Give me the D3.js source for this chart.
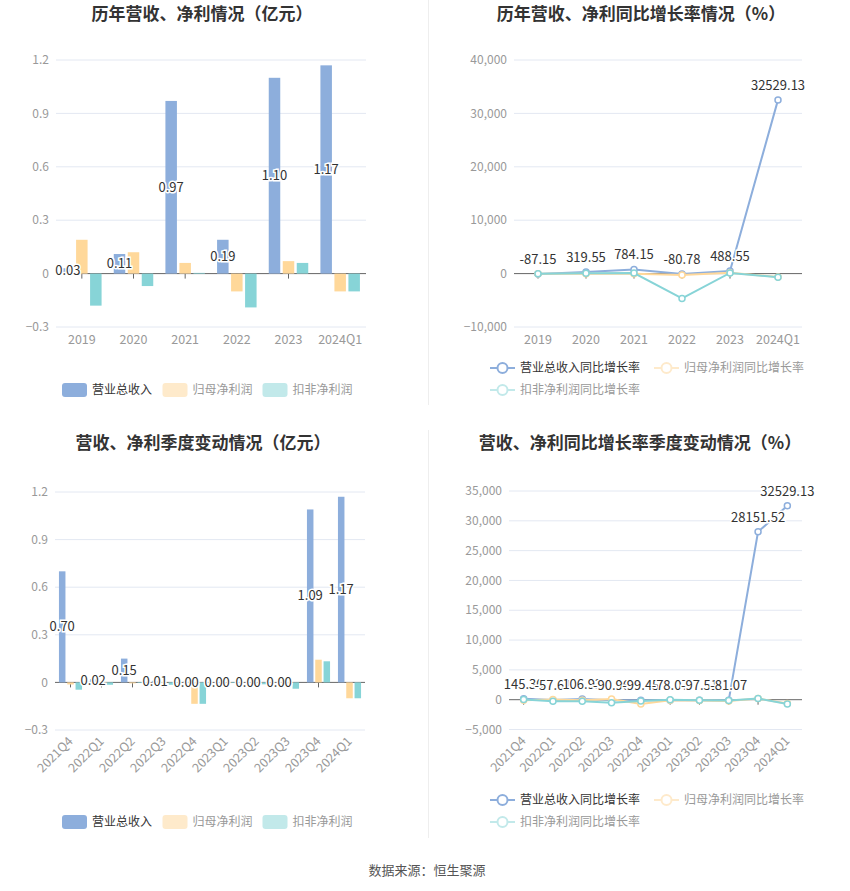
<!DOCTYPE html>
<html>
<head>
<meta charset="utf-8">
<script src="https://cdn.jsdelivr.net/npm/d3@7"></script>
<style>
  body { margin: 0; background: #fff; font-family: "Microsoft YaHei", "Noto Sans CJK SC", sans-serif; }
</style>
</head>
<body>
<div id="chart"></div>
<script>
// ---- data ----
const yearCats = ['2019', '2020', '2021', '2022', '2023', '2024Q1'];
const yearRevenue = [0.03, 0.11, 0.97, 0.19, 1.10, 1.17];
const yearNetProfit = [0.19, 0.12, 0.06, -0.10, 0.07, -0.10];
const yearDeductProfit = [-0.18, -0.07, 0.004, -0.19, 0.06, -0.10];
const yearBarTicks = [-0.3, 0, 0.3, 0.6, 0.9, 1.2];

const yearRevenueYoy = [-87.15, 319.55, 784.15, -80.78, 488.55, 32529.13];
const yearNetYoy = [-50, -37, -50, -280, 170, -640];
const yearDeductYoy = [-30, 61, 100, -4650, 131, -690];
const yearLineTicks = [-10000, 0, 10000, 20000, 30000, 40000];

const quarterCats = ['2021Q4', '2022Q1', '2022Q2', '2022Q3', '2022Q4', '2023Q1', '2023Q2', '2023Q3', '2023Q4', '2024Q1'];
const quarterRevenue = [0.70, 0.02, 0.15, 0.01, 0.004, 0.002, 0.001, 0.001, 1.09, 1.17];
const quarterNetProfit = [-0.013, 0.005, -0.006, -0.003, -0.135, 0, 0, -0.03, 0.143, -0.10];
const quarterDeductProfit = [-0.046, -0.015, -0.004, -0.015, -0.135, -0.004, -0.012, -0.04, 0.133, -0.10];
const quarterBarTicks = [-0.3, 0, 0.3, 0.6, 0.9, 1.2];

const quarterRevenueYoy = [145.30, -57.61, 106.93, -90.96, -99.45, -78.07, -97.51, -81.07, 28151.52, 32529.13];
const quarterNetYoy = [-80, 50, -100, 100, -720, -100, -150, -200, 180, -650];
const quarterDeductYoy = [30, -280, -250, -520, -230, 0, -100, -150, 200, -720];
const quarterLineTicks = [-5000, 0, 5000, 10000, 15000, 20000, 25000, 30000, 35000];

const barNames = ['营业总收入', '归母净利润', '扣非净利润'];
const lineNames = ['营业总收入同比增长率', '归母净利润同比增长率', '扣非净利润同比增长率'];

// ---- styles ----
const colors = ['#8DAEDC', '#FFD89A', '#87D4D7'];
const legendColors = ['#8DAEDC', '#FEEACB', '#C2E9EA'];
const legendText = ['#333', '#999', '#999'];

const svg = d3.select('#chart').append('svg')
  .attr('width', 850)
  .attr('height', 891);

// dividers
svg.append('line').attr('x1', 428.5).attr('x2', 428.5).attr('y1', 0).attr('y2', 405).attr('stroke', '#eee');
svg.append('line').attr('x1', 428.5).attr('x2', 428.5).attr('y1', 430).attr('y2', 838).attr('stroke', '#eee');

function title(x, y, text) {
  svg.append('text')
    .attr('x', x).attr('y', y)
    .attr('text-anchor', 'middle')
    .style('font-size', '17px')
    .style('font-weight', 'bold')
    .attr('fill', '#333')
    .text(text);
}

function axes(g, cats, ticks, box, rotate, fmt) {
  const x = d3.scaleBand().domain(cats).range([box.x0, box.x1]);
  const y = d3.scaleLinear().domain(d3.extent(ticks)).range([box.y1, box.y0]);

  // grid
  g.selectAll('.grid').data(ticks.filter(t => t !== 0)).enter().append('line')
    .attr('x1', box.x0).attr('x2', box.x1)
    .attr('y1', d => y(d)).attr('y2', d => y(d))
    .attr('stroke', '#E3E8F2');

  g.selectAll('.ytick').data(ticks).enter().append('text')
    .attr('x', box.x0 - 7).attr('y', d => y(d))
    .attr('dy', '0.35em')
    .attr('text-anchor', 'end')
    .attr('fill', '#999')
    .style('font-size', '12px')
    .text(d => fmt(d));

  // x labels
  const lab = g.selectAll('.xlab').data(cats).enter().append('text')
    .attr('fill', '#999')
    .style('font-size', '12.5px')
    .text(d => d);
  if (rotate) {
    lab.attr('text-anchor', 'end')
      .attr('dy', '0.35em')
      .attr('transform', d => `translate(${x(d) + x.bandwidth() / 2},${box.y1 + 9}) rotate(-45)`);
  } else {
    lab.attr('text-anchor', 'middle')
      .attr('x', d => x(d) + x.bandwidth() / 2)
      .attr('y', box.y1 + 17);
  }
  return { x, y };
}

function zeroAxis(g, x, y, cats, box) {
  g.append('line')
    .attr('x1', box.x0).attr('x2', box.x1)
    .attr('y1', y(0)).attr('y2', y(0))
    .attr('stroke', '#666');
  g.selectAll('.xtick').data(cats).enter().append('line')
    .attr('x1', d => x(d) + x.bandwidth() / 2).attr('x2', d => x(d) + x.bandwidth() / 2)
    .attr('y1', y(0)).attr('y2', y(0) + 5)
    .attr('stroke', '#666');
}

function barChart(cats, series, ticks, box, barW, step, rotate) {
  const g = svg.append('g');
  const { x, y } = axes(g, cats, ticks, box, rotate, d => d3.format('')(d));
  zeroAxis(g, x, y, cats, box);

  series.forEach((vals, i) => {
    g.selectAll('.bar' + i).data(vals).enter().append('rect')
      .attr('x', (d, j) => x(cats[j]) + x.bandwidth() / 2 + (i - 1) * step - barW / 2)
      .attr('y', d => Math.min(y(d), y(0)))
      .attr('width', barW)
      .attr('height', d => Math.abs(y(d) - y(0)))
      .attr('fill', colors[i]);
  });

  // revenue labels, middle of bar
  g.selectAll('.blab').data(series[0]).enter().append('text')
    .attr('x', (d, j) => x(cats[j]) + x.bandwidth() / 2 - step)
    .attr('y', d => (y(d) + y(0)) / 2)
    .attr('dy', '0.35em')
    .attr('text-anchor', 'middle')
    .style('font-size', '13px')
    .attr('fill', '#333')
    .attr('stroke', '#fff')
    .attr('stroke-width', 3)
    .attr('paint-order', 'stroke')
    .text(d => d.toFixed(2));
}

function lineChart(cats, series, ticks, box, rotate) {
  const g = svg.append('g');
  const { x, y } = axes(g, cats, ticks, box, rotate, d => d3.format(',')(d));
  zeroAxis(g, x, y, cats, box);
  const cx = c => x(c) + x.bandwidth() / 2;

  series.forEach((vals, i) => {
    const line = d3.line().x((d, j) => cx(cats[j])).y(d => y(d));
    g.append('path').datum(vals)
      .attr('d', line)
      .attr('fill', 'none')
      .attr('stroke', colors[i])
      .attr('stroke-width', 2);
    g.selectAll('.pt' + i).data(vals).enter().append('circle')
      .attr('cx', (d, j) => cx(cats[j]))
      .attr('cy', d => y(d))
      .attr('r', 3)
      .attr('fill', '#fff')
      .attr('stroke', colors[i])
      .attr('stroke-width', 1.5);
  });

  g.selectAll('.llab').data(series[0]).enter().append('text')
    .attr('x', (d, j) => cx(cats[j]))
    .attr('y', d => y(d) - 10)
    .attr('text-anchor', 'middle')
    .style('font-size', '13px')
    .attr('fill', '#333')
    .attr('stroke', '#fff')
    .attr('stroke-width', 3)
    .attr('paint-order', 'stroke')
    .text(d => d.toFixed(2));
}

function barLegend(y) {
  const xs = [62, 162.5, 262.5];
  barNames.forEach((name, i) => {
    svg.append('rect')
      .attr('x', xs[i]).attr('y', y - 7)
      .attr('width', 25).attr('height', 14)
      .attr('rx', 3)
      .attr('fill', legendColors[i]);
    svg.append('text')
      .attr('x', xs[i] + 30).attr('y', y)
      .attr('dy', '0.35em')
      .attr('fill', legendText[i])
      .style('font-size', '12px')
      .text(name);
  });
}

function lineLegend(y) {
  const pos = [[490, y], [654, y], [490, y + 22]];
  lineNames.forEach((name, i) => {
    const [lx, ly] = pos[i];
    svg.append('line')
      .attr('x1', lx).attr('x2', lx + 25)
      .attr('y1', ly).attr('y2', ly)
      .attr('stroke', legendColors[i]).attr('stroke-width', 2);
    svg.append('circle')
      .attr('cx', lx + 12.5).attr('cy', ly).attr('r', 5)
      .attr('fill', '#fff')
      .attr('stroke', legendColors[i]).attr('stroke-width', 2);
    svg.append('text')
      .attr('x', lx + 30).attr('y', ly)
      .attr('dy', '0.35em')
      .attr('fill', legendText[i])
      .style('font-size', '12px')
      .text(name);
  });
}

// ---- top row ----
title(202, 20, '历年营收、净利情况（亿元）');
title(641, 20, '历年营收、净利同比增长率情况（%）');
barChart(yearCats, [yearRevenue, yearNetProfit, yearDeductProfit], yearBarTicks,
  { x0: 56, x1: 366, y0: 60, y1: 327 }, 11.5, 14, false);
lineChart(yearCats, [yearRevenueYoy, yearNetYoy, yearDeductYoy], yearLineTicks,
  { x0: 514, x1: 802, y0: 60, y1: 327 }, false);
barLegend(390);
lineLegend(368);

// ---- bottom row ----
title(203, 449, '营收、净利季度变动情况（亿元）');
title(640, 449, '营收、净利同比增长率季度变动情况（%）');
barChart(quarterCats, [quarterRevenue, quarterNetProfit, quarterDeductProfit], quarterBarTicks,
  { x0: 55, x1: 365, y0: 492, y1: 730 }, 6.5, 8.3, true);
lineChart(quarterCats, [quarterRevenueYoy, quarterNetYoy, quarterDeductYoy], quarterLineTicks,
  { x0: 509, x1: 802, y0: 491, y1: 729.5 }, true);
barLegend(822);
lineLegend(800);

svg.append('text')
  .attr('x', 427).attr('y', 875)
  .attr('text-anchor', 'middle')
  .attr('fill', '#555')
  .style('font-size', '13px')
  .text('数据来源：恒生聚源');
</script>
</body>
</html>
